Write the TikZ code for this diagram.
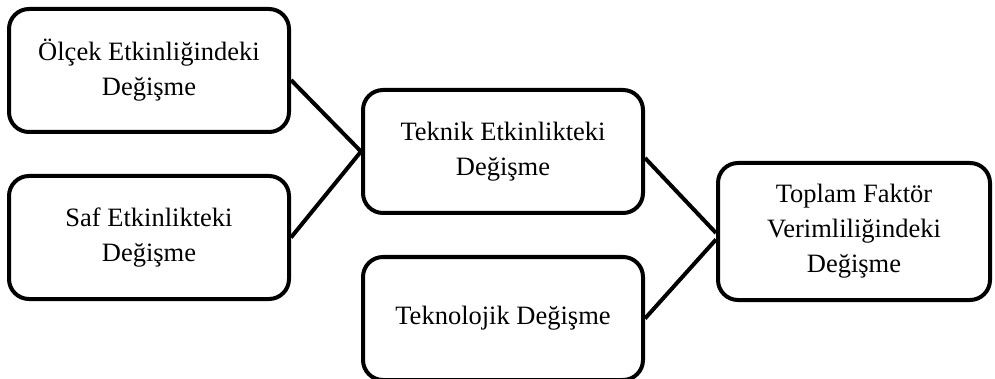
\documentclass[tikz,border=0pt]{standalone}
\usepackage{fontspec}
\setmainfont{Liberation Serif}
\usepackage{tikz}
\usetikzlibrary{positioning}

\begin{document}
\begin{tikzpicture}[
  x=1pt, y=-1pt,
  every node/.style={font=\fontsize{26.5}{35}\selectfont},
  box/.style={draw, line width=4pt, rounded corners=20pt, align=center,
    minimum width=280pt, minimum height=123pt, inner sep=0pt},
  link/.style={line width=4pt}]
  \useasboundingbox (0,0) rectangle (995,379);
  % left column
  \node[box] (olcek) at (149,70.5)  {Ölçek Etkinliğindeki\\Değişme};
  \node[box] (saf)   at (149,237.5) {Saf Etkinlikteki\\Değişme};
  % middle column
  \node[box] (teknik)    at (503,151.5) {Teknik Etkinlikteki\\Değişme};
  \node[box] (teknoloji) at (503,318.5) {Teknolojik Değişme};
  % right
  \node[box, minimum width=272pt, minimum height=137pt] (toplam) at (854,231.5)
    {Toplam Faktör\\Verimliliğindeki\\Değişme};
  % connectors
  \draw[link] ([yshift=-9.5pt]olcek.east) -- (teknik.west);
  \draw[link] (saf.east) -- (teknik.west);
  \draw[link] ([yshift=-6.5pt]teknik.east) -- ([yshift=-1.5pt]toplam.west);
  \draw[link] (teknoloji.east) -- ([yshift=-8pt]toplam.west);
\end{tikzpicture}
\end{document}
